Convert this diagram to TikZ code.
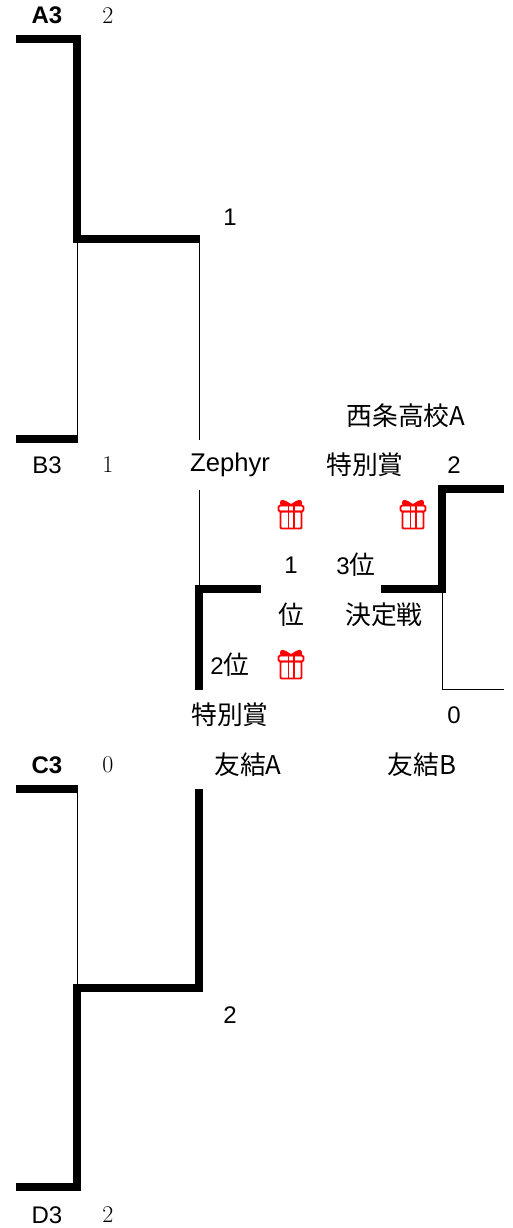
\documentclass[tikz,border=0pt]{standalone}
\usepackage{fontspec}
\newfontfamily\jp{Noto Sans CJK JP}
\newfontfamily\lat{Liberation Sans}
\newcommand{\fsz}{\fontsize{24}{26}\selectfont}
\newcommand{\fjp}{\fontsize{25.8}{28}\selectfont}
\newcommand{\ji}[1]{{\fjp\jp #1}}
\tikzset{
  x=1pt,y=-1pt,
  heavy/.style={line width=8pt,line join=miter,black},
  thin rule/.style={line width=1pt,black},
  lab/.style={font=\fsz\lat,inner sep=0pt,anchor=center},
  boldlab/.style={font=\fsz\lat\bfseries,inner sep=0pt,anchor=center},
  jplab/.style={font=\fjp\jp,inner sep=0pt,anchor=center},
  score/.style={font=\fontsize{24}{26}\selectfont\rmfamily,inner sep=0pt,anchor=center},
  giftline/.style={draw=red,line width=1.8pt,line join=round},
  pics/gift/.style={code={
    \fill[red] (-10.5,-9) -- (-11,-13) .. controls (-10,-16) and (-7,-15.5) .. (-5,-14) -- (0,-11) -- (5,-14) .. controls (7,-15.5) and (10,-16) .. (11,-13) -- (10.5,-9) -- cycle;
    \draw[giftline,rounded corners=1.5pt] (-12.5,-9.5) rectangle (12.5,-3.5);
    \draw[giftline,rounded corners=1pt] (-10.5,-3.5) rectangle (10.5,13.5);
    \draw[giftline] (-2.6,-9.5) -- (-2.6,13.5) (2.6,-9.5) -- (2.6,13.5);
  }}
}
\begin{document}
\begin{tikzpicture}
\useasboundingbox (0,0) rectangle (513,1228);
% free ends
\coordinate (a3) at (16,39.5);
\coordinate (ab) at (77,39.5);
\coordinate (abm) at (77,239);
\coordinate (abr) at (200,239);
\coordinate (b3) at (16,438.5);
\coordinate (b3r) at (78,438.5);
\coordinate (thinA) at (77.5,239);
\coordinate (thinB) at (77.5,438);
\coordinate (thinC) at (199,239);
\coordinate (thinD) at (199,589);
\coordinate (c3) at (16,788.5);
\coordinate (c3r) at (78,788.5);
\coordinate (thinE) at (77.5,788);
\coordinate (thinF) at (77.5,988);
\coordinate (d3) at (16,1187);
\coordinate (d3c) at (77,1187);
\coordinate (cdm) at (77,988);
\coordinate (cdr) at (199,988);
\coordinate (cdt) at (199,789);
\coordinate (sb) at (199,689.5);
\coordinate (sc) at (199,589);
\coordinate (se) at (261,589);
\coordinate (tl) at (381,589);
\coordinate (tc) at (442,589);
\coordinate (tt) at (442,489);
\coordinate (tr) at (504,489);
\coordinate (ts) at (442.5,589);
\coordinate (tb) at (442.5,689.5);
\coordinate (te) at (504,689.5);
% thin rules
\draw[thin rule] (thinA) -- (thinB);
\draw[thin rule] (thinC) -- (thinD);
\draw[thin rule] (thinE) -- (thinF);
\draw[thin rule] (ts) -- (tb) -- (te);
% heavy rules
\draw[heavy] (a3) -- (ab) -- (abm) -- (abr);
\draw[heavy] (b3) -- (b3r);
\draw[heavy] (c3) -- (c3r);
\draw[heavy] (d3) -- (d3c) -- (cdm) -- (cdr) -- (cdt);
\draw[heavy] (sb) -- (sc) -- (se);
\draw[heavy] (tl) -- (tc) -- (tt) -- (tr);
% labels
\node[boldlab] (nA3) at (47,15) {A3};
\node[score] (sA3) at (108,16) {2};
\node[lab] (s1) at (230,217) {1};
\node[jplab] (nS) at (406,416) {西条高校A};
\node[lab] (nB3) at (47,465) {B3};
\node[score] (sB3) at (108,465) {1};
\node[lab,font=\fontsize{25.6}{28}\selectfont\lat,fill=white,minimum height=50pt,minimum width=80pt] (nZ) at (230,465) {Zephyr};
\node[jplab] (p1) at (365,465) {特別賞};
\node[lab] (s2) at (454,465) {2};
\pic at (291,515) {gift};
\pic at (413,515) {gift};
\node[lab] (r1a) at (291,565) {1};
\node[lab] (r3) at (356,565) {3\ji{位}};
\node[jplab] (r1b) at (291,615) {位};
\node[jplab] (fin) at (384,615) {決定戦};
\node[lab] (r2) at (230,665) {2\ji{位}};
\pic at (291,665) {gift};
\node[jplab] (p2) at (230,715) {特別賞};
\node[lab] (s0) at (454,715) {0};
\node[boldlab] (nC3) at (47,765) {C3};
\node[score] (sC3) at (108,765) {0};
\node[jplab] (y1) at (248,765) {友結A};
\node[jplab] (y2) at (422,765) {友結B};
\node[lab] (s3) at (230,1015) {2};
\node[lab] (nD3) at (47,1215) {D3};
\node[score] (sD3) at (108,1215) {2};
\end{tikzpicture}
\end{document}
